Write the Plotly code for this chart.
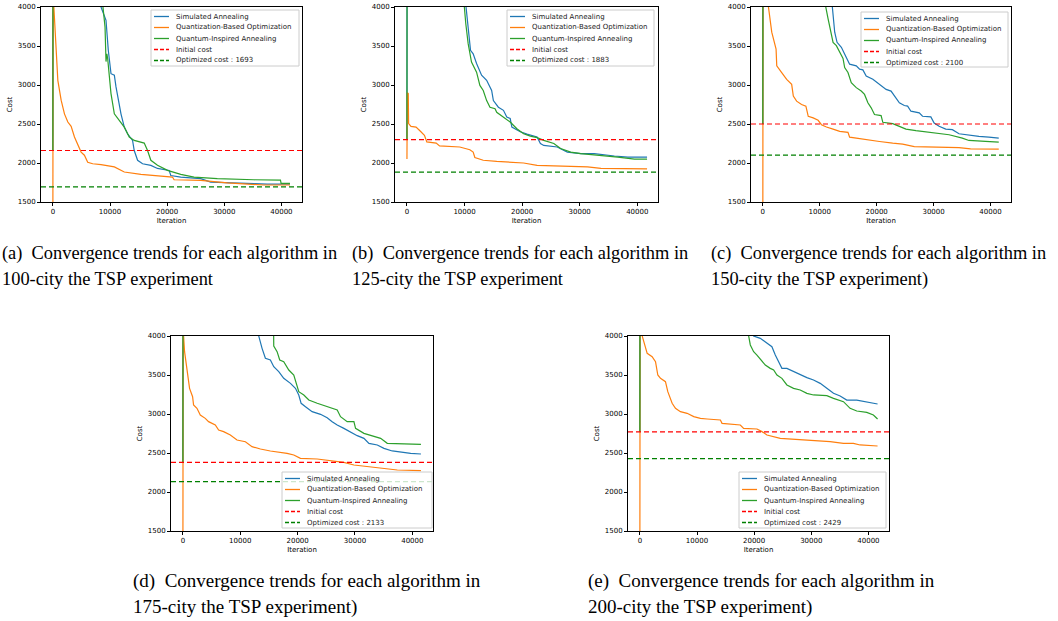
import plotly.graph_objects as go

# ---------------- data ----------------
series_names = ["Simulated Annealing", "Quantization-Based Optimization", "Quantum-Inspired Annealing"]
series_colors = ["#1f77b4", "#ff7f0e", "#2ca02c"]
panel_ids = ["a", "b", "c", "d", "e"]
city_counts = [100, 125, 150, 175, 200]
initial_costs = [2160, 2300, 2500, 2380, 2770]
optimized_costs = [1693, 1883, 2100, 2133, 2429]
x_ticks = [0, 10000, 20000, 30000, 40000]
y_ticks = [1500, 2000, 2500, 3000, 3500, 4000]
caption_line1 = ["Convergence trends for each algorithm in"] * 5
caption_line2 = ["100-city the TSP experiment", "125-city the TSP experiment",
                 "150-city the TSP experiment)", "175-city the TSP experiment)",
                 "200-city the TSP experiment)"]

# panel (a) 100-city
a_sa_x = [0, 60, 7800, 8430, 9300, 9480, 9700, 10175, 10760, 11050, 11450, 11920, 12500, 13080, 13950, 14240, 14830, 15700, 17150, 18310, 20350, 20640, 22380, 25870, 27620, 31690, 35170, 37500, 41500]
a_sa_y = [2160, 9000, 4500, 4000, 3830, 3660, 3445, 3145, 3125, 2975, 2800, 2630, 2460, 2375, 2290, 2160, 2035, 1990, 1970, 1930, 1905, 1840, 1820, 1800, 1755, 1740, 1735, 1730, 1730]
a_qbo_x = [0, 60, 175, 400, 870, 1450, 2030, 2620, 3200, 3780, 4360, 4940, 5520, 6100, 6980, 8430, 10760, 12500, 15410, 18310, 20930, 21220, 25870, 30520, 34010, 36920, 41500]
a_qbo_y = [1000, 6000, 4000, 3700, 3060, 2805, 2630, 2525, 2470, 2333, 2225, 2140, 2100, 2010, 1990, 1980, 1950, 1885, 1855, 1840, 1820, 1785, 1778, 1745, 1735, 1718, 1718]
a_qia_x = [0, 60, 8200, 8720, 9130, 9300, 9450, 9590, 9880, 10175, 10760, 11630, 12500, 13370, 14240, 15990, 16570, 17150, 18310, 20060, 22380, 24710, 28780, 35170, 39830, 39940, 41500]
a_qia_y = [2160, 9000, 4400, 4000, 3745, 3300, 3400, 3340, 3100, 2890, 2630, 2545, 2460, 2333, 2290, 2255, 2160, 2035, 1970, 1905, 1855, 1820, 1800, 1785, 1780, 1738, 1738]

# panel (b) 125-city
b_sa_x = [0, 60, 9700, 10220, 10630, 11040, 11500, 12090, 12960, 13840, 14710, 15010, 15880, 16760, 17340, 17930, 18220, 19680, 20850, 22600, 23180, 23760, 26100, 27850, 30190, 32520, 36030, 38360, 41700]
b_sa_y = [2300, 9000, 4400, 4000, 3660, 3445, 3400, 3275, 3125, 3060, 2930, 2800, 2715, 2675, 2590, 2570, 2460, 2400, 2370, 2333, 2250, 2225, 2205, 2140, 2120, 2120, 2090, 2075, 2075]
b_qbo_x = [0, 60, 230, 290, 700, 1580, 2160, 3040, 3450, 5080, 5660, 8000, 9170, 10920, 11500, 11790, 13250, 15590, 17340, 20260, 22600, 26100, 31360, 33690, 41700]
b_qbo_y = [2050, 2900, 2890, 2505, 2470, 2460, 2420, 2355, 2270, 2255, 2220, 2205, 2205, 2170, 2140, 2070, 2035, 2020, 2010, 2000, 1970, 1960, 1950, 1930, 1925]
b_qia_x = [0, 60, 9500, 9930, 10220, 10630, 11210, 12090, 12670, 13250, 13840, 14420, 15300, 15590, 16760, 17930, 19090, 20260, 21430, 22600, 23760, 25510, 26680, 28440, 30190, 33690, 36610, 39530, 41700]
b_qia_y = [2300, 9000, 4400, 4000, 3785, 3530, 3295, 3165, 2995, 2930, 2800, 2715, 2695, 2650, 2590, 2525, 2440, 2375, 2345, 2325, 2290, 2250, 2185, 2140, 2120, 2100, 2075, 2050, 2050]

# panel (c) 150-city
c_sa_x = [0, 60, 11700, 12170, 12630, 13040, 13800, 14670, 15250, 16420, 17000, 17580, 18160, 19330, 20490, 21660, 22530, 23110, 23990, 24860, 25440, 26020, 27480, 28060, 29520, 30100, 30970, 32140, 33300, 34470, 35630, 37960, 39710, 41450]
c_sa_y = [2500, 9000, 4400, 4000, 3677, 3547, 3483, 3353, 3267, 3246, 3203, 3194, 3116, 3073, 3009, 2944, 2922, 2858, 2772, 2737, 2729, 2664, 2642, 2599, 2591, 2513, 2470, 2435, 2427, 2375, 2362, 2341, 2332, 2319]
c_qbo_x = [0, 60, 990, 1570, 2330, 2450, 3320, 4190, 5070, 5360, 5940, 6810, 7570, 7980, 8850, 9720, 10300, 11180, 12340, 13510, 14960, 15250, 16420, 18160, 20490, 22820, 24570, 26610, 29810, 34470, 36500, 41450]
c_qbo_y = [1000, 6000, 4000, 3677, 3461, 3246, 3160, 3073, 3009, 2858, 2793, 2750, 2729, 2599, 2578, 2547, 2491, 2461, 2435, 2405, 2392, 2332, 2319, 2298, 2276, 2254, 2242, 2211, 2203, 2198, 2181, 2177]
c_qia_x = [0, 60, 10600, 11060, 11470, 12050, 12340, 12920, 13510, 14090, 14380, 14960, 15540, 16420, 17290, 17870, 18460, 19040, 19620, 20780, 21080, 22820, 23990, 25150, 26900, 29810, 32720, 35050, 36210, 39120, 41450]
c_qia_y = [2500, 9000, 4400, 4000, 3849, 3634, 3547, 3504, 3418, 3341, 3224, 3160, 3030, 2966, 2922, 2879, 2772, 2707, 2621, 2608, 2522, 2504, 2470, 2435, 2414, 2384, 2362, 2319, 2289, 2276, 2267]

# panel (d) 175-city
d_sa_x = [0, 60, 12700, 13220, 13800, 14380, 15250, 15840, 16710, 17580, 18750, 19620, 20200, 20610, 21370, 22530, 23990, 25150, 26020, 26900, 28060, 29230, 30390, 31560, 32430, 33890, 35050, 36500, 37960, 39710, 41500]
d_sa_y = [2380, 9000, 4400, 4000, 3842, 3714, 3692, 3607, 3543, 3457, 3393, 3329, 3244, 3137, 3094, 3030, 2996, 2953, 2902, 2859, 2816, 2765, 2722, 2688, 2624, 2603, 2560, 2526, 2509, 2496, 2487]
d_qbo_x = [0, 60, 120, 290, 700, 1160, 1690, 1860, 2450, 3030, 3900, 4480, 5650, 6230, 7100, 8270, 9430, 10890, 12050, 13510, 15250, 16420, 18160, 19330, 20490, 23410, 25730, 28060, 29810, 32140, 35050, 37380, 41500]
d_qbo_y = [1000, 6000, 4000, 3799, 3543, 3329, 3222, 3115, 3073, 2987, 2944, 2902, 2859, 2795, 2774, 2731, 2667, 2645, 2581, 2551, 2526, 2517, 2496, 2474, 2432, 2423, 2397, 2380, 2346, 2325, 2303, 2282, 2274]
d_qia_x = [0, 60, 15780, 15840, 16420, 16880, 17580, 18460, 19330, 19910, 20200, 21080, 21950, 23410, 25150, 26900, 27480, 28640, 29810, 30100, 31560, 33300, 34470, 35630, 37380, 39710, 41500]
d_qia_y = [2380, 9000, 4300, 3870, 3799, 3692, 3671, 3564, 3500, 3372, 3286, 3244, 3179, 3137, 3094, 3051, 2966, 2902, 2902, 2816, 2752, 2709, 2688, 2624, 2620, 2615, 2611]

# panel (e) 200-city
e_sa_x = [0, 60, 19400, 19910, 21080, 22240, 23110, 23700, 24280, 24860, 25730, 26900, 28060, 29230, 30390, 31560, 32720, 33890, 35050, 36210, 37960, 39710, 41600]
e_sa_y = [2770, 9000, 4400, 4000, 3970, 3906, 3863, 3756, 3671, 3585, 3585, 3543, 3500, 3466, 3436, 3393, 3329, 3265, 3231, 3179, 3179, 3150, 3128]
e_qbo_x = [0, 60, 410, 990, 1280, 2150, 2740, 3140, 3610, 4480, 4890, 5650, 6230, 7100, 8270, 9430, 10600, 11760, 14090, 14380, 17580, 18160, 20490, 21370, 22240, 24570, 27480, 30390, 33300, 35630, 37380, 38540, 41600]
e_qbo_y = [1000, 6000, 4000, 3842, 3778, 3735, 3671, 3500, 3457, 3415, 3286, 3137, 3073, 3030, 3009, 2966, 2944, 2936, 2923, 2880, 2859, 2816, 2808, 2774, 2731, 2688, 2675, 2667, 2645, 2624, 2624, 2603, 2590]
e_qia_x = [0, 60, 18500, 19040, 19330, 19910, 20490, 21370, 21950, 22820, 23410, 23990, 24860, 25730, 26900, 28060, 29230, 30390, 32720, 33890, 35630, 36790, 37960, 39710, 40870, 41600]
e_qia_y = [2770, 9000, 4400, 4000, 3885, 3799, 3756, 3671, 3628, 3585, 3564, 3500, 3457, 3372, 3329, 3308, 3265, 3244, 3235, 3201, 3158, 3073, 3038, 3021, 2987, 2936]

panel_series = [
    [(a_sa_x, a_sa_y), (a_qbo_x, a_qbo_y), (a_qia_x, a_qia_y)],
    [(b_sa_x, b_sa_y), (b_qbo_x, b_qbo_y), (b_qia_x, b_qia_y)],
    [(c_sa_x, c_sa_y), (c_qbo_x, c_qbo_y), (c_qia_x, c_qia_y)],
    [(d_sa_x, d_sa_y), (d_qbo_x, d_qbo_y), (d_qia_x, d_qia_y)],
    [(e_sa_x, e_sa_y), (e_qbo_x, e_qbo_y), (e_qia_x, e_qia_y)],
]

# ---------------- layout geometry (pixels) ----------------
W, H = 1058, 621
# left, right, top, bottom of each plot area
boxes = [(41, 302, 7, 202), (395, 658, 7, 202), (751, 1011, 7, 202),
         (171, 433, 336, 531), (628, 889, 336, 531)]
# legend boxes: left, top, width, height
leg_boxes = [(151, 10, 148, 56), (507, 10, 147, 56), (861, 12, 147, 55),
             (282, 472, 150, 56), (739, 472, 147, 56)]
# caption positions: x of line, y of line1, y of line2, font size
cap_pos = [(0, 253, 279, 18.4), (350, 253, 279, 18.4), (709, 253, 279, 18.4),
           (131, 581, 607, 19), (586, 581, 607, 19)]

def px(x):
    return x / W

def py(y):
    return 1 - y / H

TICK_FONT = dict(family="DejaVu Sans", size=7, color="black")

fig = go.Figure()
shapes = []
annotations = []

for i, pid in enumerate(panel_ids):
    n = i + 1
    xa = "x" if n == 1 else f"x{n}"
    ya = "y" if n == 1 else f"y{n}"
    for (sx, sy), name, col in zip(panel_series[i], series_names, series_colors):
        fig.add_trace(go.Scatter(x=sx, y=sy, mode="lines", name=name,
                                 line=dict(color=col, width=1.2),
                                 xaxis=xa, yaxis=ya, showlegend=False))
    L, R, T, B = boxes[i]
    xkey = "xaxis" if n == 1 else f"xaxis{n}"
    ykey = "yaxis" if n == 1 else f"yaxis{n}"
    fig.update_layout(**{
        xkey: dict(domain=[px(L), px(R)], anchor=ya, range=[-2075, 43600],
                   tickvals=x_ticks, ticktext=[str(v) for v in x_ticks],
                   showline=True, mirror=True, linecolor="black", linewidth=1,
                   ticks="outside", ticklen=3, tickwidth=1, tickcolor="black",
                   showgrid=False, zeroline=False, tickfont=TICK_FONT,
                   title=dict(text="Iteration", font=TICK_FONT, standoff=2),
                   automargin=False),
        ykey: dict(domain=[py(B), py(T)], anchor=xa, range=[1500, 4000],
                   tickvals=y_ticks, ticktext=[str(v) for v in y_ticks],
                   showline=True, mirror=True, linecolor="black", linewidth=1,
                   ticks="outside", ticklen=3, tickwidth=1, tickcolor="black",
                   showgrid=False, zeroline=False, tickfont=TICK_FONT,
                   title=dict(text="Cost", font=TICK_FONT, standoff=4),
                   automargin=False),
    })
    xd = f"{xa} domain"
    # reference lines
    shapes.append(dict(type="line", xref=xd, yref=ya, x0=0, x1=1,
                       y0=initial_costs[i], y1=initial_costs[i],
                       line=dict(color="red", width=1.2, dash="5px,3px")))
    shapes.append(dict(type="line", xref=xd, yref=ya, x0=0, x1=1,
                       y0=optimized_costs[i], y1=optimized_costs[i],
                       line=dict(color="green", width=1.2, dash="5px,3px")))
    # legend box
    lx, ly, lw, lh = leg_boxes[i]
    shapes.append(dict(type="rect", xref="paper", yref="paper",
                       x0=px(lx), x1=px(lx + lw), y0=py(ly + lh), y1=py(ly),
                       fillcolor="rgba(255,255,255,0.8)",
                       line=dict(color="#cccccc", width=1)))
    labels = series_names + ["Initial cost", f"Optimized cost : {optimized_costs[i]}"]
    colors = series_colors + ["red", "green"]
    dashes = ["solid"] * 3 + ["4px,2px"] * 2
    for k, (lab, c, d) in enumerate(zip(labels, colors, dashes)):
        yy = ly + 6.5 + 11 * k
        shapes.append(dict(type="line", xref="paper", yref="paper",
                           x0=px(lx + 3), x1=px(lx + 18), y0=py(yy), y1=py(yy),
                           line=dict(color=c, width=1.3, dash=d)))
        annotations.append(dict(text=lab, x=px(lx + 23), y=py(yy), xref="paper", yref="paper",
                                xanchor="left", yanchor="middle", showarrow=False,
                                font=dict(family="DejaVu Sans", size=7, color="#222")))
    # captions
    cx, cy1, cy2, fs = cap_pos[i]
    cap_font = dict(family="Liberation Serif", size=fs, color="black")
    annotations.append(dict(text=f"({pid})\u00a0\u00a0{caption_line1[i]}", x=px(cx), y=py(cy1),
                            xref="paper", yref="paper", xanchor="left", yanchor="middle",
                            showarrow=False, font=cap_font))
    annotations.append(dict(text=caption_line2[i], x=px(cx), y=py(cy2),
                            xref="paper", yref="paper", xanchor="left", yanchor="middle",
                            showarrow=False, font=cap_font))

fig.update_layout(width=W, height=H, margin=dict(l=0, r=0, t=0, b=0),
                  paper_bgcolor="white", plot_bgcolor="white",
                  showlegend=False, shapes=shapes, annotations=annotations)

fig.write_html("out.html")
